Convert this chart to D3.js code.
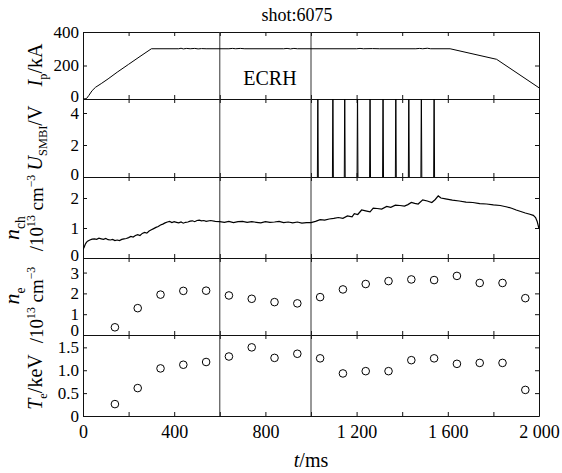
<!DOCTYPE html>
<html>
<head>
<meta charset="utf-8">
<script src="https://cdn.jsdelivr.net/npm/d3@7"></script>
<style>
  body { margin: 0; background: #fff; }
  svg text { font-family: "Liberation Serif", "Times New Roman", serif; }
</style>
</head>
<body>
<svg id="chart" width="562" height="473"></svg>
<script>
// ---- data ----
const shotLabel = "shot:6075";
const ecrhWindow = [600, 1000];

// plasma current, [t(ms), Ip(kA)]
const ipData = [[0,0],[15,2],[25,20],[40,50],[55,70],[80,92],[110,120],[150,160],[200,207],[250,254],[300,300],
  [420,300],[430,303],[440,299],[455,302],[470,300],[490,302],[505,299],[520,301],[540,300],[640,300],[655,302],
  [670,300],[690,302],[710,300],[880,300],[895,302],[910,299],[925,302],[940,300],[1200,300],[1215,302],
  [1230,300],[1270,301],[1300,300],[1460,300],[1475,302],[1490,300],[1510,303],[1525,300],[1610,300],
  [1814,237],[2000,67]];

// SMBI pulse start times (ms)
const smbiPulseTimes = [1028, 1094, 1146, 1202, 1257, 1314, 1370, 1427, 1482, 1538];

// line-averaged density, [t(ms), n (1e13 cm^-3)]
const nchData = [[0,0.28],[5,0.36],[10,0.46],[15,0.52],[20,0.56],[30,0.6],[40,0.63],[50,0.64],[60,0.62],[70,0.66],
  [80,0.64],[90,0.62],[100,0.65],[110,0.61],[120,0.6],[130,0.62],[140,0.58],[150,0.6],[160,0.58],[170,0.62],
  [180,0.64],[190,0.65],[200,0.68],[210,0.72],[220,0.7],[230,0.75],[240,0.78],[250,0.75],[260,0.82],[270,0.85],
  [280,0.83],[290,0.9],[300,0.94],[310,0.98],[320,1.02],[330,1.05],[340,1.1],[350,1.13],[360,1.17],[370,1.2],
  [380,1.22],[390,1.18],[400,1.21],[410,1.19],[420,1.17],[430,1.2],[440,1.16],[450,1.19],[460,1.2],[470,1.23],
  [480,1.24],[490,1.21],[500,1.25],[510,1.26],[520,1.24],[530,1.25],[540,1.22],[560,1.25],[580,1.22],[600,1.21],
  [620,1.19],[640,1.22],[660,1.18],[680,1.21],[700,1.22],[720,1.19],[740,1.21],[760,1.19],[780,1.17],[800,1.21],
  [820,1.19],[840,1.2],[860,1.22],[880,1.18],[900,1.2],[920,1.17],[940,1.2],[960,1.16],[980,1.18],[1000,1.18],
  [1020,1.22],[1040,1.28],[1060,1.26],[1080,1.3],[1100,1.32],[1120,1.35],[1140,1.32],[1160,1.4],[1180,1.37],
  [1190,1.48],[1205,1.45],[1222,1.6],[1240,1.57],[1259,1.54],[1273,1.66],[1290,1.65],[1310,1.63],[1332,1.72],
  [1350,1.69],[1370,1.76],[1390,1.75],[1410,1.73],[1425,1.78],[1440,1.85],[1455,1.82],[1470,1.8],[1490,1.94],
  [1510,1.9],[1530,1.85],[1545,1.95],[1558,2.07],[1570,2.0],[1590,1.97],[1620,1.93],[1650,1.9],[1680,1.86],
  [1710,1.85],[1740,1.81],[1770,1.8],[1800,1.77],[1830,1.75],[1860,1.7],[1880,1.66],[1900,1.6],[1920,1.55],
  [1940,1.5],[1960,1.46],[1975,1.42],[1985,1.35],[1992,1.22],[2000,0.98]];

// sampled profiles
const sampleTimes = [140, 240, 340, 440, 540, 640, 740, 840, 940, 1040, 1140, 1240, 1340, 1440, 1540, 1640, 1740, 1840, 1940];
const neValues = [0.37, 1.29, 1.94, 2.12, 2.13, 1.9, 1.74, 1.58, 1.52, 1.82, 2.19, 2.45, 2.59, 2.67, 2.64, 2.84, 2.5, 2.5, 1.77];
const teValues = [0.26, 0.61, 1.04, 1.12, 1.18, 1.3, 1.5, 1.27, 1.36, 1.26, 0.93, 0.98, 0.98, 1.22, 1.26, 1.14, 1.16, 1.16, 0.57];

// ticks
const xTicks = [0, 200, 400, 600, 800, 1000, 1200, 1400, 1600, 1800, 2000];
const xTickLabels = [0, 400, 800, 1200, 1600, 2000];
const ipTicks = [0, 200, 400];
const smbiTicks = [0, 2, 4];
const nchTicks = [0, 1, 2];
const neTicks = [0, 1, 2, 3];
const teTicks = [0, 0.5, 1.0, 1.5];

// ---- layout ----
const svg = d3.select("#chart");
const left = 83, right = 539;
const x = d3.scaleLinear().domain([0, 2000]).range([left, right]);

const panels = [
  { key: "ip",   top: 32,  bottom: 99,  domain: [0, 400],   ticks: ipTicks },
  { key: "smbi", top: 99,  bottom: 177, domain: [0, 4.875], ticks: smbiTicks },
  { key: "nch",  top: 177, bottom: 258, domain: [0, 2.7],   ticks: nchTicks },
  { key: "ne",   top: 258, bottom: 335, domain: [0, 3.7],   ticks: neTicks },
  { key: "te",   top: 335, bottom: 416, domain: [0, 1.77],  ticks: teTicks }
];
panels.forEach(p => { p.y = d3.scaleLinear().domain(p.domain).range([p.bottom, p.top]); });
const P = Object.fromEntries(panels.map(p => [p.key, p]));

const spaced = d3.formatLocale({ decimal: ".", thousands: " ", grouping: [3], currency: ["", ""] }).format(",");

const defs = svg.append("defs");

panels.forEach(p => {
  defs.append("clipPath").attr("id", "clip-" + p.key)
    .append("rect").attr("x", left).attr("y", p.top).attr("width", right - left).attr("height", p.bottom - p.top);

  const fmt = p.key === "te" ? (d => d === 0 ? "0" : d3.format(".1f")(d)) : d3.format("d");

  const gl = svg.append("g").attr("transform", `translate(${left},0)`)
    .call(d3.axisLeft(p.y).tickValues(p.ticks).tickSizeInner(-4).tickSizeOuter(0).tickPadding(4).tickFormat(fmt));
  const gr = svg.append("g").attr("transform", `translate(${right},0)`)
    .call(d3.axisRight(p.y).tickValues(p.ticks).tickSizeInner(-4).tickSizeOuter(0).tickFormat(""));
  const gt = svg.append("g").attr("transform", `translate(0,${p.top})`)
    .call(d3.axisTop(x).tickValues(xTicks).tickSizeInner(-4).tickSizeOuter(0).tickFormat(""));
  const gb = svg.append("g").attr("transform", `translate(0,${p.bottom})`)
    .call(d3.axisBottom(x).tickValues(xTicks).tickSizeInner(-4).tickSizeOuter(0).tickFormat(""));

  [gl, gr, gt, gb].forEach(g => {
    g.attr("font-family", null).attr("font-size", null);
    g.selectAll("path, line").attr("stroke", "#111").attr("stroke-width", 1);
  });
  gl.selectAll("text").attr("font-size", 17).attr("fill", "#000");
  // lift the "0" a touch where it meets the panel below
  if (p.key !== "te") gl.selectAll("text").filter(d => d === 0).attr("dy", p.key === "ne" ? "0em" : "0.12em");
});

// x tick labels under the bottom panel
const gx = svg.append("g").attr("transform", `translate(0,${P.te.bottom})`)
  .call(d3.axisBottom(x).tickValues(xTickLabels).tickSize(0).tickPadding(9).tickFormat(spaced));
gx.attr("font-family", null).attr("font-size", null);
gx.select(".domain").remove();
gx.selectAll("text").attr("font-size", 18).attr("fill", "#000");

// ECRH window lines
svg.append("g").selectAll("line").data(ecrhWindow).join("line")
  .attr("x1", d => x(d)).attr("x2", d => x(d))
  .attr("y1", P.ip.top).attr("y2", P.te.bottom)
  .attr("stroke", "#333").attr("stroke-width", 1);

// Ip trace
svg.append("path").datum(ipData)
  .attr("clip-path", "url(#clip-ip)")
  .attr("fill", "none").attr("stroke", "#000").attr("stroke-width", 1)
  .attr("d", d3.line().x(d => x(d[0])).y(d => P.ip.y(d[1])));

// SMBI pulses
const pulseLine = d3.line().x(d => x(d[0])).y(d => P.smbi.y(d[1]));
svg.append("g").attr("clip-path", "url(#clip-smbi)")
  .selectAll("path").data(smbiPulseTimes).join("path")
  .attr("fill", "none").attr("stroke", "#000").attr("stroke-width", 1)
  .attr("d", t => pulseLine([[t, 0], [t + 2, 6], [t + 4, 0]]));

// nch trace
svg.append("path").datum(nchData)
  .attr("clip-path", "url(#clip-nch)")
  .attr("fill", "none").attr("stroke", "#000").attr("stroke-width", 1.2)
  .attr("d", d3.line().x(d => x(d[0])).y(d => P.nch.y(d[1])));

// sampled points
function dots(panel, values) {
  svg.append("g").selectAll("circle").data(values).join("circle")
    .attr("cx", (d, i) => x(sampleTimes[i]))
    .attr("cy", d => panel.y(d))
    .attr("r", 3.8)
    .attr("fill", "#fff").attr("stroke", "#000").attr("stroke-width", 1);
}
dots(P.ne, neValues);
dots(P.te, teValues);

// texts
svg.append("text").attr("x", 297).attr("y", 21).attr("text-anchor", "middle")
  .attr("font-size", 18).text(shotLabel);
svg.append("text").attr("x", x(820)).attr("y", 85).attr("text-anchor", "middle")
  .attr("font-size", 20).text("ECRH");

const xl = svg.append("text").attr("x", x(1000)).attr("y", 467).attr("text-anchor", "middle").attr("font-size", 20);
xl.append("tspan").attr("font-style", "italic").text("t");
xl.append("tspan").text("/ms");

// rotated y labels: parts = [text, style] where style is "i" italic, "sub", "sup" or ""
function yLabel(bx, cy, parts, size) {
  const t = svg.append("text")
    .attr("transform", `translate(${bx},${cy}) rotate(-90)`)
    .attr("text-anchor", "middle").attr("font-size", size);
  let shift = 0;
  parts.forEach(([s, st]) => {
    const sp = t.append("tspan").text(s);
    let target = 0;
    if (st === "i") sp.attr("font-style", "italic");
    if (st === "sub") { sp.attr("font-size", size * 0.62); target = size * 0.25; }
    if (st === "sup") { sp.attr("font-size", size * 0.62); target = -size * 0.42; }
    sp.attr("dy", target - shift);
    shift = target;
  });
}
yLabel(42, 65, [["I", "i"], ["p", "sub"], ["/kA", ""]], 20);
yLabel(42, 138, [["U", "i"], ["SMBI", "sub"], ["/V", ""]], 20);
yLabel(19, 228, [["n", "i"], ["ch", "sub"]], 22);
yLabel(43, 213, [["/10", ""], ["13", "sup"], [" cm", ""], ["\u22123", "sup"]], 19);
yLabel(19, 296, [["n", "i"], ["e", "sub"]], 22);
yLabel(43, 305, [["/10", ""], ["13", "sup"], [" cm", ""], ["\u22123", "sup"]], 19);
yLabel(42, 382, [["T", "i"], ["e", "sub"], ["/keV", ""]], 20);
</script>
</body>
</html>
